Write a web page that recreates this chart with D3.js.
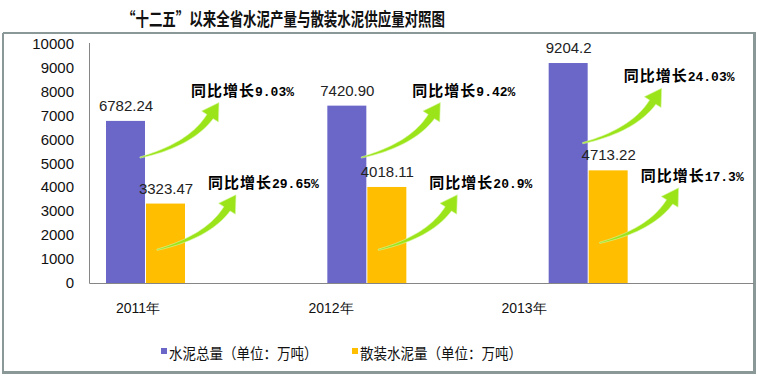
<!DOCTYPE html>
<html>
<head>
<meta charset="utf-8">
<script src="https://cdn.jsdelivr.net/npm/d3@7"></script>
<style>
  body { margin: 0; background: #fff; }
  svg { display: block; font-family: "Liberation Sans", Arial, sans-serif; }
</style>
</head>
<body>
<div class="chart"></div>
<script>
// data
const years = ['2011年', '2012年', '2013年'];
const seriesNames = ['水泥总量（单位：万吨）', '散装水泥量（单位：万吨）'];
const totalCement = [6782.24, 7420.90, 9204.2];
const bulkCement = [3323.47, 4018.11, 4713.22];
const totalLabels = ['6782.24', '7420.90', '9204.2'];
const bulkLabels = ['3323.47', '4018.11', '4713.22'];
const totalGrowth = ['9.03%', '9.42%', '24.03%'];
const bulkGrowth = ['29.65%', '20.9%', '17.3%'];
// where each green arrow leaves the bar, in axis units
const totalArrowAt = [5250, 5250, 5850];
const bulkArrowAt = [1390, 1390, 1680];
const yTicks = [0, 1000, 2000, 3000, 4000, 5000, 6000, 7000, 8000, 9000, 10000];

const colors = ['#6a67c9', '#ffbf00'];

const svg = d3.select('.chart')
              .append('svg')
              .attr('width', 757)
              .attr('height', 376);

// title
svg.append('text')
   .attr('x', 122)
   .attr('y', 26)
   .attr('textLength', 323)
   .attr('lengthAdjust', 'spacingAndGlyphs')
   .style('font-family', '"Noto Sans CJK SC", sans-serif')
   .style('font-weight', 'bold')
   .style('font-size', '18px')
   .attr('fill', '#111')
   .text('“十二五”以来全省水泥产量与散装水泥供应量对照图');

// frame
const frame = svg.append('g').attr('stroke', '#8a9898').attr('fill', 'none');
frame.append('line').attr('x1', 3).attr('x2', 3).attr('y1', 33).attr('y2', 373).attr('stroke-width', 2);
frame.append('line').attr('x1', 3).attr('x2', 755).attr('y1', 33).attr('y2', 33).attr('stroke-width', 2);
frame.append('line').attr('x1', 754.5).attr('x2', 754.5).attr('y1', 32).attr('y2', 374).attr('stroke-width', 3);
frame.append('line').attr('x1', 2).attr('x2', 756).attr('y1', 372.5).attr('y2', 372.5).attr('stroke-width', 3);

// scales
const x = d3.scaleBand().domain(years).range([90, 754]);
const x1 = d3.scaleBand().domain([0, 1]).range([16, 96]);
const xLabel = d3.scalePoint().domain(years).range([138, 524]);
const y = d3.scaleLinear().domain([0, 10000]).range([283, 44]);

// y tick labels
svg.append('g')
   .selectAll('text')
   .data(yTicks)
   .join('text')
     .attr('x', 74)
     .attr('y', d => y(d) + 5)
     .attr('text-anchor', 'end')
     .style('font-size', '15px')
     .attr('fill', '#111')
     .text(d => d);

// bars
const rows = years.map((yr, i) => ({ yr, vals: [totalCement[i], bulkCement[i]], labels: [totalLabels[i], bulkLabels[i]] }));
const groups = svg.append('g')
   .selectAll('g')
   .data(rows)
   .join('g')
     .attr('transform', d => `translate(${x(d.yr)},0)`);

groups.selectAll('rect')
   .data(d => d.vals.map((v, k) => ({ v, k })))
   .join('rect')
     .attr('x', d => x1(d.k))
     .attr('width', x1.bandwidth() - 1)
     .attr('y', d => y(d.v))
     .attr('height', d => y(0) - y(d.v))
     .attr('fill', d => colors[d.k]);

groups.selectAll('text')
   .data(d => d.vals.map((v, k) => ({ v, k, label: d.labels[k] })))
   .join('text')
     .attr('x', d => x1(d.k) + x1.bandwidth() / 2)
     .attr('y', d => y(d.v) - 10)
     .attr('text-anchor', 'middle')
     .style('font-size', '15px')
     .attr('fill', '#222')
     .text(d => d.label);

// axes lines
svg.append('line').attr('x1', 89.5).attr('x2', 89.5).attr('y1', 43).attr('y2', 283.5).attr('stroke', '#868686');
svg.append('line').attr('x1', 89.5).attr('x2', 754).attr('y1', 283.5).attr('y2', 283.5).attr('stroke', '#868686');

// category labels
svg.append('g')
   .selectAll('text')
   .data(years)
   .join('text')
     .attr('x', d => xLabel(d))
     .attr('y', 313)
     .attr('text-anchor', 'middle')
     .style('font-size', '14px')
     .attr('fill', '#111')
     .text(d => d);

// green growth arrows
function arrowPath() {
  const c = [51, -13], b = [70, -41], tip = [79, -55];
  const left = [], right = [];
  const n = 24;
  for (let i = 0; i <= n; i++) {
    const t = i / n;
    const px = 2 * (1 - t) * t * c[0] + t * t * b[0];
    const py = 2 * (1 - t) * t * c[1] + t * t * b[1];
    const tx = 2 * (1 - t) * c[0] + 2 * t * (b[0] - c[0]);
    const ty = 2 * (1 - t) * c[1] + 2 * t * (b[1] - c[1]);
    const len = Math.hypot(tx, ty);
    const nx = -ty / len, ny = tx / len;
    const hw = 0.6 + 3.2 * t;
    left.push([px + nx * hw, py + ny * hw]);
    right.push([px - nx * hw, py - ny * hw]);
  }
  const dx = tip[0] - b[0], dy = tip[1] - b[1];
  const dl = Math.hypot(dx, dy);
  const pxn = -dy / dl, pyn = dx / dl;
  const cA = [b[0] + pxn * 10, b[1] + pyn * 10];
  const cB = [b[0] - pxn * 10, b[1] - pyn * 10];
  const pts = left.concat([cA, tip, cB], right.reverse());
  return d3.line()(pts) + 'Z';
}

const notes = [];
years.forEach((yr, i) => {
  // the 2013 captions sit a little further left in the original
  const shift = i === 2 ? -10 : 0;
  notes.push({ sx: x(yr) + x1(0) + x1.bandwidth() - 6, sy: y(totalArrowAt[i]), g: totalGrowth[i], shift });
  notes.push({ sx: x(yr) + x1(1) + 11, sy: y(bulkArrowAt[i]), g: bulkGrowth[i], shift });
});

const ann = svg.append('g')
   .selectAll('g')
   .data(notes)
   .join('g')
     .attr('transform', d => `translate(${d.sx},${d.sy})`);

ann.append('path')
   .attr('d', arrowPath())
   .attr('fill', '#9be41a')
   .attr('stroke', '#d9f7a6')
   .attr('stroke-width', 0.6);

const lbl = ann.append('text')
   .attr('x', d => 51 + d.shift)
   .attr('y', -62)
   .attr('fill', '#000')
   .style('font-weight', 'bold');
lbl.append('tspan')
   .style('font-family', '"Noto Sans CJK SC", sans-serif')
   .style('font-size', '15px')
   .style('letter-spacing', '1px')
   .text('同比增长');
lbl.append('tspan')
   .style('font-family', '"Liberation Mono", monospace')
   .style('font-size', '13px')
   .text(d => d.g);

// legend
const legend = svg.append('g')
   .selectAll('g')
   .data(seriesNames)
   .join('g')
     .attr('transform', (d, i) => `translate(${i === 0 ? 161 : 352},348)`);
legend.append('rect')
   .attr('width', 6)
   .attr('height', 6)
   .attr('fill', (d, i) => colors[i]);
legend.append('text')
   .attr('x', 8)
   .attr('y', 11)
   .attr('textLength', d => d.length * 13.5)
   .attr('lengthAdjust', 'spacingAndGlyphs')
   .style('font-family', '"Noto Sans CJK SC", sans-serif')
   .style('font-size', '15px')
   .attr('fill', '#111')
   .text(d => d);
</script>
</body>
</html>
